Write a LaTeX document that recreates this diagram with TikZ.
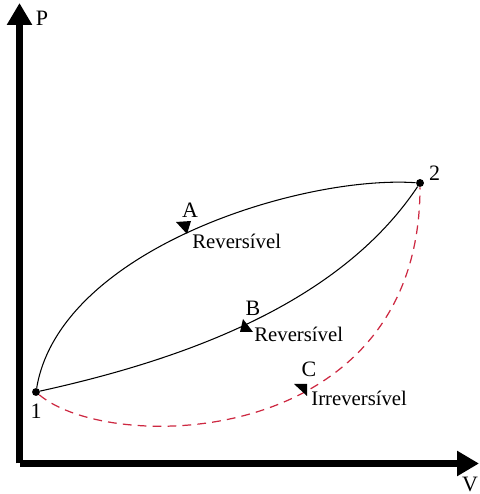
\documentclass[tikz,border=0pt]{standalone}
\usepackage{fontspec}
\setmainfont{Liberation Serif}
\usetikzlibrary{arrows.meta,positioning,calc}
\definecolor{irrevRed}{RGB}{205, 40, 65}

\begin{document}
\begin{tikzpicture}[
    axis/.style={line width=3.6pt, -{Triangle[length=0.44cm, width=0.48cm]}},
    state/.style={circle, fill=black, inner sep=0pt, minimum size=4.5pt},
    proc/.style={line width=0.6pt, draw=black},
    irrev/.style={line width=0.7pt, draw=irrevRed, dash pattern=on 5pt off 3.5pt},
    dirmark/.style={fill=black},
    lbl/.style={font=\fontsize{12.5}{14}\selectfont, inner sep=1pt},
    tag/.style={font=\fontsize{11.8}{13}\selectfont, inner sep=0pt, anchor=west}
]
    \useasboundingbox (0,0) rectangle (9.58,9.88);

    % Axes P-V
    \coordinate (orig) at (0.39,0.61);
    \coordinate (ptop) at (0.39,9.82);
    \coordinate (vend) at (9.58,0.61);
    \draw [axis] (orig) -- (ptop);
    \draw [axis] (orig) -- (vend);
    \node [lbl] (plabel) at (0.84,9.52) {P};
    \node [lbl] (vlabel) at (9.40,0.20) {V};

    % States 1 and 2
    \node [state] (s1) at (0.72,2.04) {};
    \node [state] (s2) at (8.40,6.22) {};
    \node [lbl, below=0.12cm of s1] (n1) {1};
    \node [lbl, above right=-0.06cm and 0.08cm of s2] (n2) {2};

    % Process A (reversible)
    \draw [proc] (s1) .. controls (1.20,4.88) and (6.00,6.38) .. (s2);
    \fill [dirmark] (3.52,5.44) -- (3.82,5.46) -- (3.74,5.20) -- cycle;
    \node [lbl] (la) at (3.80,5.68) {A};
    \node [tag] (ra) at (3.84,5.06) {Reversível};

    % Process B (reversible)
    \draw [proc] (s1) .. controls (3.72,2.70) and (6.80,3.82) .. (s2);
    \fill [dirmark] (4.86,3.50) -- (4.80,3.24) -- (5.06,3.24) -- cycle;
    \node [lbl] (lb) at (5.06,3.72) {B};
    \node [tag] (rb) at (5.08,3.20) {Reversível};

    % Process C (irreversible)
    \draw [irrev] (s1) .. controls (2.20,0.78) and (8.40,0.88) .. (s2);
    \fill [dirmark] (5.88,2.20) -- (6.14,2.20) -- (6.14,1.96) -- cycle;
    \node [lbl] (lc) at (6.18,2.50) {C};
    \node [tag] (rc) at (6.22,1.92) {Irreversível};

\end{tikzpicture}
\end{document}
